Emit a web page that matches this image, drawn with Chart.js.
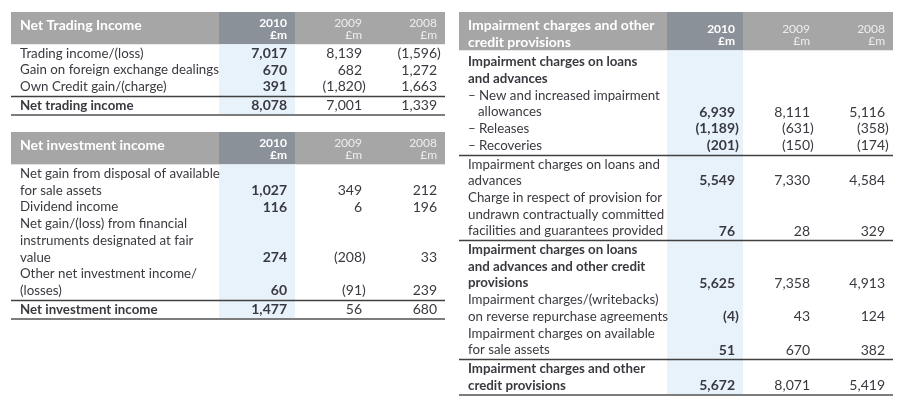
<!DOCTYPE html>
<html>
<head>
<meta charset="utf-8">
<script src="https://cdn.jsdelivr.net/npm/chart.js@4.4.1/dist/chart.umd.min.js"></script>
<style>
    body { margin: 0; background: #fff; }
    #wrap { position: relative; width: 897px; height: 400px; overflow: hidden; }
    .tbl { position: absolute; }
</style>
</head>
<body>
<div id="wrap">
    <div class="tbl" style="left:11px;top:12px;"><canvas id="trading"></canvas></div>
    <div class="tbl" style="left:11px;top:132px;"><canvas id="investment"></canvas></div>
    <div class="tbl" style="left:459px;top:12px;"><canvas id="impairment"></canvas></div>
</div>
<script>
const years = ['2010', '2009', '2008'];
const unit = '£m';

// Net trading income
const tradingTitle = ['Net Trading Income'];
const tradingRows = [
    ['Trading income/(loss)'],
    ['Gain on foreign exchange dealings'],
    ['Own Credit gain/(charge)'],
    ['Net trading income']
];
const trading2010 = [7017, 670, 391, 8078];
const trading2009 = [8139, 682, -1820, 7001];
const trading2008 = [-1596, 1272, 1663, 1339];
const tradingBold = [3];
const tradingRules = [3];

// Net investment income
const investTitle = ['Net investment income'];
const investRows = [
    ['Net gain from disposal of available', 'for sale assets'],
    ['Dividend income'],
    ['Net gain/(loss) from financial', 'instruments designated at fair', 'value'],
    ['Other net investment income/', '(losses)'],
    ['Net investment income']
];
const invest2010 = [1027, 116, 274, 60, 1477];
const invest2009 = [349, 6, -208, -91, 56];
const invest2008 = [212, 196, 33, 239, 680];
const investBold = [4];
const investRules = [4];

// Impairment charges and other credit provisions
const impairTitle = ['Impairment charges and other', 'credit provisions'];
const impairRows = [
    ['Impairment charges on loans', 'and advances'],
    ['– New and increased impairment', 'allowances'],
    ['– Releases'],
    ['– Recoveries'],
    ['Impairment charges on loans and', 'advances'],
    ['Charge in respect of provision for', 'undrawn contractually committed', 'facilities and guarantees provided'],
    ['Impairment charges on loans', 'and advances and other credit', 'provisions'],
    ['Impairment charges/(writebacks)', 'on reverse repurchase agreements'],
    ['Impairment charges on available', 'for sale assets'],
    ['Impairment charges and other', 'credit provisions']
];
const impair2010 = [null, 6939, -1189, -201, 5549, 76, 5625, -4, 51, 5672];
const impair2009 = [null, 8111, -631, -150, 7330, 28, 7358, 43, 670, 8071];
const impair2008 = [null, 5116, -358, -174, 4584, 329, 4913, 124, 382, 5419];
const impairBold = [0, 6, 9];
const impairRules = [4, 6, 9];

// layout (pixels inside one table, y in text lines)
const LINE = 16.7;
const WIDTH = 434;
const LABEL_X = 9;
const INDENT = 10;
const COL_X = [276, 351, 426];
const HILITE = [208, 284];
const RULE_GAP = 0.12;
const FONT = 'Lato';
const TEXT = '#3a3940';

function fmt(v) {
    if (v === null) return '';
    const s = Math.abs(v).toLocaleString('en-GB');
    return v < 0 ? '(' + s + ')' : s;
}

function buildTable(rows, cols, bold, rules, hdr, gap) {
    const labels = [];
    const cells = cols.map(() => []);
    const ruleY = [];
    let cur = hdr + gap;
    rows.forEach((lines, r) => {
        if (rules.includes(r)) {
            ruleY.push(cur + RULE_GAP / 2);
            cur += RULE_GAP;
        }
        const dash = lines[0].startsWith('–');
        lines.forEach((txt, k) => {
            labels.push({ x: LABEL_X + (dash && k > 0 ? INDENT : 0), y: cur + k + 0.5, text: txt, bold: bold.includes(r) });
        });
        const last = cur + lines.length - 0.5;
        cols.forEach((vals, c) => {
            // only the current year is set in bold
            if (vals[r] !== null) cells[c].push({ x: COL_X[c], y: last, text: fmt(vals[r]), bold: c === 0 });
        });
        cur += lines.length;
    });
    return { labels, cells, ruleY, bottom: cur + 0.1 };
}

const tablePlugin = {
    id: 'table',
    beforeDatasetsDraw(chart) {
        const { ctx, scales: { x, y } } = chart;
        const t = chart.options.plugins.table;
        const L = x.getPixelForValue(0), R = x.getPixelForValue(WIDTH);
        const h0 = x.getPixelForValue(HILITE[0]), h1 = x.getPixelForValue(HILITE[1]);
        const top = y.getPixelForValue(0), hb = y.getPixelForValue(t.hdr), bot = y.getPixelForValue(t.bottom);
        ctx.save();
        ctx.fillStyle = '#a6a6a6';
        ctx.fillRect(L, top, R - L, hb - top);
        ctx.fillStyle = '#8b9198';
        ctx.fillRect(h0, top, h1 - h0, hb - top);
        ctx.fillStyle = '#e7f2fa';
        ctx.fillRect(h0, hb, h1 - h0, bot - hb);

        ctx.strokeStyle = '#404040';
        ctx.lineWidth = 1.3;
        t.ruleY.forEach(v => {
            const py = Math.round(y.getPixelForValue(v)) + 0.5;
            ctx.beginPath(); ctx.moveTo(L, py); ctx.lineTo(R, py); ctx.stroke();
        });
        ctx.strokeStyle = '#7c7c7c';
        ctx.lineWidth = 2;
        ctx.beginPath(); ctx.moveTo(L, Math.round(bot)); ctx.lineTo(R, Math.round(bot)); ctx.stroke();

        // header text
        ctx.textBaseline = 'middle';
        ctx.fillStyle = '#ffffff';
        ctx.font = 'bold 14px ' + FONT;
        ctx.textAlign = 'left';
        t.title.forEach((s, i) => ctx.fillText(s, x.getPixelForValue(LABEL_X), y.getPixelForValue(0.78 + i * 1.02)));
        ctx.textAlign = 'right';
        years.forEach((yr, c) => {
            ctx.font = (c === 0 ? 'bold ' : '') + '12px ' + FONT;
            ctx.fillStyle = c === 0 ? '#ffffff' : '#eeeeee';
            const px = x.getPixelForValue(COL_X[c]);
            ctx.fillText(yr, px, y.getPixelForValue(t.hdr - 1.27));
            ctx.fillText(unit, px, y.getPixelForValue(t.hdr - 0.55));
        });
        ctx.restore();
    },
    afterDatasetsDraw(chart) {
        const { ctx } = chart;
        ctx.save();
        ctx.textBaseline = 'middle';
        ctx.fillStyle = TEXT;
        chart.data.datasets.forEach((ds, i) => {
            const meta = chart.getDatasetMeta(i);
            meta.data.forEach((el, j) => {
                const p = ds.data[j];
                if (i === 0) {
                    ctx.font = (p.bold ? 'bold ' : '') + '13.3px ' + FONT;
                    ctx.textAlign = 'left';
                    ctx.fillText(p.text, el.x, el.y);
                    return;
                }
                ctx.font = (p.bold ? 'bold ' : '') + '14px ' + FONT;
                if (p.text.startsWith('(')) {
                    ctx.textAlign = 'right';
                    ctx.fillText(p.text.slice(0, -1), el.x, el.y);
                    ctx.textAlign = 'left';
                    ctx.fillText(')', el.x, el.y);
                } else {
                    ctx.textAlign = 'right';
                    ctx.fillText(p.text, el.x, el.y);
                }
            });
        });
        ctx.restore();
    }
};

function renderTable(id, title, rows, cols, bold, rules, hdr, gap) {
    const t = buildTable(rows, cols, bold, rules, hdr, gap);
    const total = t.bottom + 0.15;
    const canvas = document.getElementById(id);
    canvas.width = WIDTH;
    canvas.height = Math.round(total * LINE);
    const datasets = [{ label: 'labels', data: t.labels }].concat(
        years.map((yr, c) => ({ label: yr, data: t.cells[c] }))
    );
    new Chart(canvas, {
        type: 'scatter',
        data: { datasets: datasets.map(d => Object.assign(d, { pointRadius: 0, pointHoverRadius: 0 })) },
        options: {
            responsive: false,
            animation: false,
            events: [],
            layout: { padding: 0 },
            scales: {
                x: { type: 'linear', min: 0, max: WIDTH, display: false },
                y: { type: 'linear', min: 0, max: total, reverse: true, display: false }
            },
            plugins: {
                legend: { display: false },
                tooltip: { enabled: false },
                table: { title, hdr, ruleY: t.ruleY, bottom: t.bottom }
            }
        },
        plugins: [tablePlugin]
    });
}

renderTable('trading', tradingTitle, tradingRows, [trading2010, trading2009, trading2008], tradingBold, tradingRules, 1.93, 0.05);
renderTable('investment', investTitle, investRows, [invest2010, invest2009, invest2008], investBold, investRules, 1.93, 0.05);
renderTable('impairment', impairTitle, impairRows, [impair2010, impair2009, impair2008], impairBold, impairRules, 2.29, 0.2);
</script>
</body>
</html>
